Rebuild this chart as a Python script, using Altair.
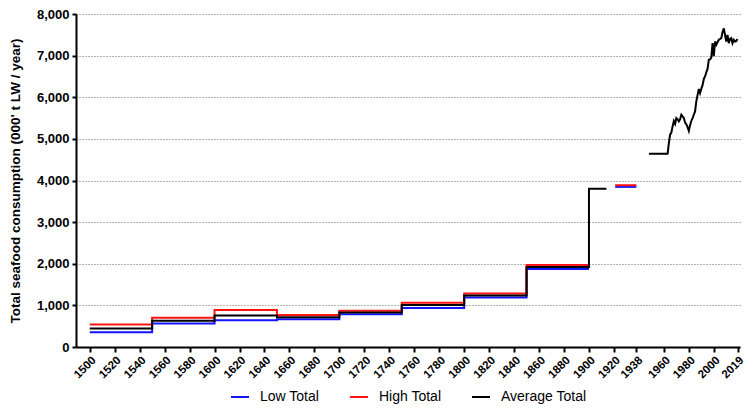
import altair as alt
import pandas as pd

# ---- data ----
series_names = ["Low Total", "High Total", "Average Total"]
series_colors = ["#1414FF", "#FF1414", "#000000"]

period_starts = [1500, 1550, 1600, 1650, 1700, 1750, 1800, 1850]
period_end = 1900
low_steps = [352, 563, 640, 665, 788, 938, 1189, 1872]
high_steps = [540, 704, 891, 766, 870, 1063, 1283, 1970]
avg_steps = [446, 633, 758, 712, 829, 1009, 1236, 1923]

avg_early_years = [1900, 1914]
avg_early_value = 3800

interwar_years = [1921, 1938]
low_interwar = 3847
high_interwar = 3887

modern_years = list(range(1948, 2020))
modern_avg = [
    4645, 4645, 4645, 4645, 4645, 4645, 4645, 4645, 4645, 4645,  # 1948-1957
    4645, 4645, 4645, 4645, 4645, 4645, 4900, 5100, 5150, 5300,  # 1958-1967
    5430, 5360, 5500, 5470, 5420, 5470, 5580, 5540, 5500, 5390,  # 1968-1977
    5350, 5280, 5190, 5330, 5430, 5500, 5580, 5660, 5900, 6050,  # 1978-1987
    6200, 6100, 6200, 6290, 6440, 6500, 6600, 6680, 6900, 6910,  # 1988-1997
    6950, 7300, 6990, 7340, 7260, 7320, 7380, 7400, 7420, 7560,  # 1998-2007
    7655, 7500, 7340, 7500, 7300, 7400, 7420, 7300, 7380, 7340,  # 2008-2017
    7350, 7400,                                                  # 2018-2019
]

x_tick_values = list(range(1500, 1921, 20)) + [1938, 1960, 1980, 2000, 2019]
y_tick_values = list(range(0, 8001, 1000))

# ---- build the line table (vertices of step lines) ----
rows = []

def add_steps(name, seg, values, extra=None):
    idx = 0
    for i, v in enumerate(values):
        start = period_starts[i]
        end = period_starts[i + 1] if i + 1 < len(period_starts) else period_end
        rows.append({"series": name, "seg": seg, "idx": idx, "year": start, "value": v}); idx += 1
        rows.append({"series": name, "seg": seg, "idx": idx, "year": end, "value": v}); idx += 1
    if extra:
        for (yr, v) in extra:
            rows.append({"series": name, "seg": seg, "idx": idx, "year": yr, "value": v}); idx += 1

add_steps("Low Total", "a", low_steps)
add_steps("High Total", "a", high_steps)
add_steps("Average Total", "a", avg_steps,
          extra=[(avg_early_years[0], avg_early_value), (avg_early_years[1], avg_early_value)])

for k, yr in enumerate(interwar_years):
    rows.append({"series": "Low Total", "seg": "b", "idx": k, "year": yr, "value": low_interwar})
    rows.append({"series": "High Total", "seg": "b", "idx": k, "year": yr, "value": high_interwar})

for k, (yr, v) in enumerate(zip(modern_years, modern_avg)):
    rows.append({"series": "Average Total", "seg": "c", "idx": k, "year": yr, "value": v})

df = pd.DataFrame(rows)
df["key"] = df["series"] + "_" + df["seg"]

font = "Liberation Sans"

chart = alt.Chart(df).mark_line(strokeWidth=2, strokeCap="butt", strokeJoin="miter").encode(
    x=alt.X("year:Q",
            scale=alt.Scale(domain=[1489, 2021], nice=False, zero=False),
            axis=alt.Axis(values=x_tick_values, format="d", labelAngle=-45, title=None,
                          grid=False, labelFont=font, labelFontWeight="bold", labelFontSize=11.5,
                          labelColor="#000", tickSize=5, tickWidth=2, tickColor="#000",
                          domainWidth=2, domainColor="#000", labelPadding=2, labelOverlap=False)),
    y=alt.Y("value:Q",
            scale=alt.Scale(domain=[0, 8000], nice=False),
            axis=alt.Axis(values=y_tick_values, format=",d",
                          title="Total seafood consumption (000' t LW / year)",
                          titleFont=font, titleFontSize=13.5, titleFontWeight="bold", titleColor="#000",
                          titlePadding=14,
                          labelFont=font, labelFontWeight="bold", labelFontSize=13, labelColor="#000",
                          tickSize=4, tickWidth=2, tickColor="#000", labelPadding=3,
                          domainWidth=2, domainColor="#000",
                          grid=True, gridDash=[1, 2], gridColor="#666", gridWidth=1)),
    color=alt.Color("series:N",
                    scale=alt.Scale(domain=series_names, range=series_colors),
                    legend=alt.Legend(title=None, orient="none", legendX=154, legendY=373,
                                      direction="horizontal", symbolType="stroke",
                                      symbolStrokeWidth=2, symbolSize=324,
                                      labelFont=font, labelFontSize=14,
                                      labelColor="#000", labelOffset=10, columnPadding=26)),
    detail="key:N",
    order=alt.Order("idx:Q"),
).properties(
    width=664, height=333, padding=0
).configure_view(strokeWidth=0)

chart.save("out.html", embed_options={"renderer": "svg", "actions": False})
